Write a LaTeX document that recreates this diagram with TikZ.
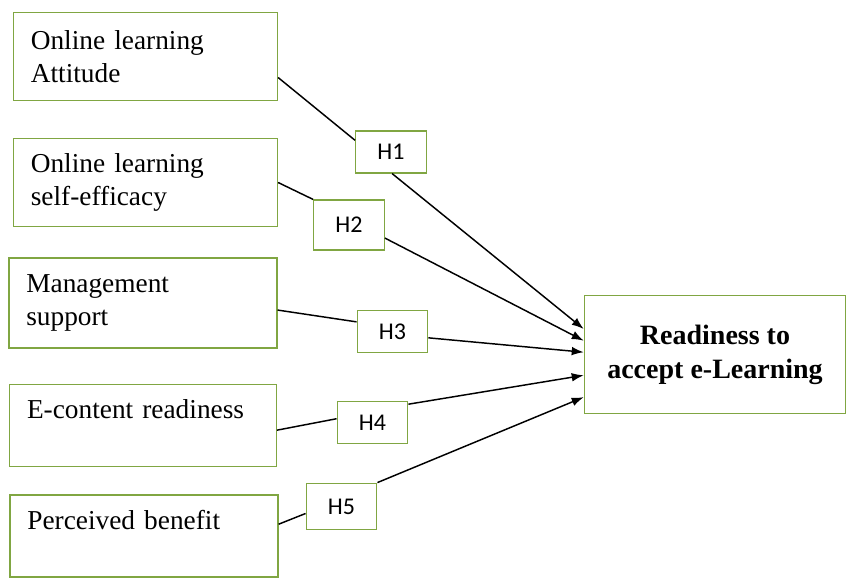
\documentclass[tikz,border=0pt]{standalone}
\usepackage{fontspec}
\setmainfont{Liberation Serif}
\newfontfamily\hfont{Carlito}
\usetikzlibrary{arrows.meta}
\definecolor{boxgreen}{RGB}{128,166,66}
\tikzset{
  factor/.style={draw=boxgreen, line width=0.9pt, fill=white, inner xsep=13pt,
    text width=172pt, minimum height=66pt, align=left,
    font=\fontsize{20.5}{25}\selectfont},
  hyp/.style={draw=boxgreen, line width=0.9pt, fill=white, minimum width=53pt,
    font=\hfont\fontsize{18}{20}\selectfont},
  link/.style={line width=1.1pt},
  arr/.style={line width=1.1pt, -{Latex[length=9pt,width=6.5pt]}}
}
\begin{document}
\begin{tikzpicture}[x=0.75pt,y=-0.75pt]
\useasboundingbox[fill=white] (0,0) rectangle (846,578);

\node[factor] (att) at (145.5,56.5) {Online learning\\Attitude};
\node[factor] (eff) at (145.5,182.5) {Online learning\\self-efficacy};
\node[factor, minimum height=67.5pt, text width=175pt] (mgt) at (143,303) {Management\\support};
\node[factor, minimum height=62pt, text width=174pt, text depth=25pt] (ect) at (143,425.5) {E-content readiness};
\node[factor, minimum height=61.5pt, text width=175pt, text depth=24pt] (ben) at (144,536) {Perceived benefit};

\node[hyp, minimum height=31.5pt] (h1) at (391,152) {H1};
\node[hyp, minimum height=37.5pt] (h2) at (349,225) {H2};
\node[hyp, minimum height=32pt] (h3) at (392.5,331.5) {H3};
\node[hyp, minimum height=31pt] (h4) at (372.5,422.5) {H4};
\node[hyp, minimum height=35pt] (h5) at (341.5,506.5) {H5};

\node[draw=boxgreen, line width=0.9pt, minimum width=196pt, minimum height=88pt,
  align=center, font=\bfseries\fontsize{21}{25.5}\selectfont] (ready) at (715,354.5)
  {Readiness to\\accept e-Learning};

\draw[link] (att.-9) -- (h1.162);
\draw[link] (eff.east) -- (h2.north west);
\draw[link] (mgt.-3) -- (h3.165);
\draw[link] (ect.-2) -- (h4.174);
\draw[link] (ben.5) -- (h5.191);

\draw[arr] (h1.-87) -- (ready.169);
\draw[arr] (h2.-20) -- (ready.174);
\draw[arr] (h3.-10) -- (ready.179);
\draw[arr] (h4.27) -- (ready.189);
\draw[arr] (h5.north east) -- (ready.198);
\end{tikzpicture}
\end{document}
